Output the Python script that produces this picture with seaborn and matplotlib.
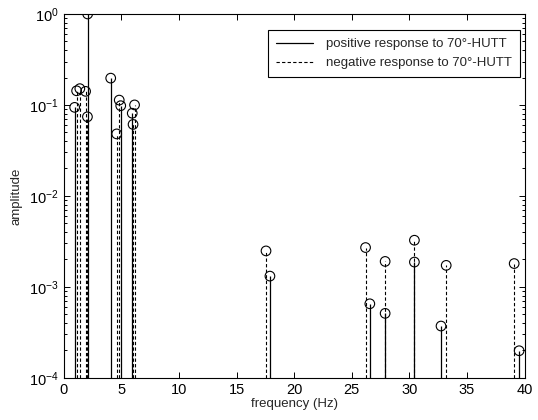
import numpy as np
import pandas as pd
import matplotlib
matplotlib.use("Agg")
import matplotlib.pyplot as plt
import seaborn as sns
from matplotlib.lines import Line2D

# ---- data ----
pos_freq = [0.95, 2.08, 4.08, 4.95, 5.95, 17.9, 26.57, 27.9, 30.44, 32.75, 39.53]
pos_amp = [0.094, 1.0, 0.197, 0.098, 0.081, 0.00131, 0.00065, 0.00051, 0.00187, 0.00037, 0.000198]

neg_freq = [1.12, 1.4, 1.9, 2.06, 4.6, 4.82, 6.02, 6.15, 17.56, 26.2, 27.9, 30.44, 33.2, 39.1]
neg_amp = [0.143, 0.151, 0.141, 0.074, 0.048, 0.113, 0.061, 0.1, 0.00248, 0.0027, 0.0019, 0.00325, 0.00172, 0.0018]

labels = ["positive response to 70°-HUTT", "negative response to 70°-HUTT"]
xticks = [0, 5, 10, 15, 20, 25, 30, 35, 40]

sns.set_style("ticks")
plt.rcParams["font.family"] = ["Liberation Sans", "DejaVu Sans"]
plt.rcParams["mathtext.default"] = "regular"
plt.rcParams["xtick.direction"] = "in"
plt.rcParams["ytick.direction"] = "in"

fig = plt.figure(figsize=(5.38, 4.2), dpi=100)
ax = fig.add_axes([0.1184, 0.1007, 0.8566, 0.8660])

base = 1e-4
df_pos = pd.DataFrame({"freq": pos_freq, "amp": pos_amp})
df_neg = pd.DataFrame({"freq": neg_freq, "amp": neg_amp})

ax.vlines(df_neg["freq"], base, df_neg["amp"], colors="black", linestyles=(0, (3, 2)), linewidth=0.8)
ax.vlines(df_pos["freq"], base, df_pos["amp"], colors="black", linestyles="solid", linewidth=0.9)

for d in (df_neg, df_pos):
    sns.scatterplot(data=d, x="freq", y="amp", ax=ax, marker="o", s=48,
                    facecolors="none", edgecolor="black", linewidth=0.8, legend=False, zorder=3)

ax.set_yscale("log")
ax.set_xlim(0, 40)
ax.set_ylim(1e-4, 1)
ax.set_xticks(xticks)
ax.set_xticklabels([str(t) for t in xticks])
ax.tick_params(axis="both", which="both", top=True, right=True, labelsize=10.5, width=0.7, colors="black")
ax.tick_params(which="major", length=4)
ax.tick_params(which="minor", length=2.5)
for s in ax.spines.values():
    s.set_linewidth(0.8)
    s.set_color("black")

ax.set_xlabel("frequency (Hz)", fontsize=9.5, labelpad=1)
ax.set_ylabel("amplitude", fontsize=9.5, labelpad=5)

handles = [Line2D([0], [0], color="black", lw=0.9, linestyle="solid"),
           Line2D([0], [0], color="black", lw=0.8, linestyle=(0, (3, 2)))]
leg = ax.legend(handles, labels, loc="upper right", bbox_to_anchor=(0.99, 0.956),
                borderaxespad=0, fontsize=9.5, frameon=True, fancybox=False,
                edgecolor="black", framealpha=1, handlelength=2.8,
                borderpad=0.62, labelspacing=0.5, handletextpad=1.0)
leg.get_frame().set_linewidth(0.8)

fig.savefig("out.png", dpi=100)
